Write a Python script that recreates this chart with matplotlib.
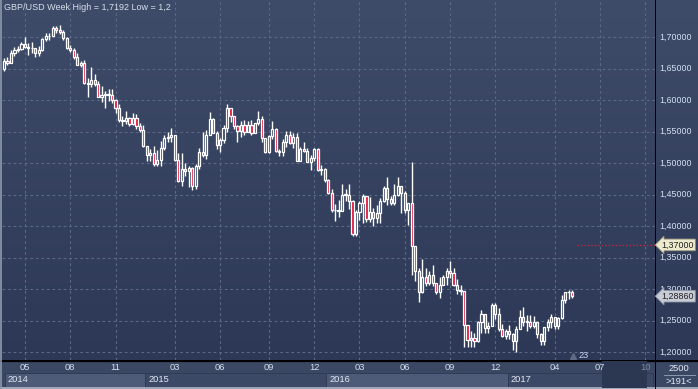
import numpy as np
import pandas as pd
import matplotlib
matplotlib.use("Agg")
import matplotlib.pyplot as plt
from matplotlib.patches import Rectangle
from matplotlib.colors import LinearSegmentedColormap

plt.rcParams['font.family'] = ['Liberation Sans', 'DejaVu Sans']

# weekly GBP/USD candles, first bar = week of 2014-03-24
FIRST_WEEK = "2014-03-24"
FIRST_OPEN = 1.6490

closes = [
    1.6625, 1.6585, 1.6745, 1.6800, 1.6810, 1.6890, 1.6840, 1.6820, 1.6830, 1.6750,
    1.6800, 1.6970, 1.7010, 1.7020, 1.7150, 1.7105, 1.7085, 1.6980, 1.6830, 1.6790,
    1.6690, 1.6560, 1.6590, 1.6270, 1.6260, 1.6310, 1.6250, 1.6040, 1.6080, 1.6090,
    1.6080, 1.6000, 1.5880, 1.5680, 1.5660, 1.5710, 1.5620, 1.5710, 1.5590, 1.5530,
    1.5270, 1.5130, 1.5160, 1.4990, 1.5050, 1.5240, 1.5390, 1.5410, 1.5440, 1.5040,
    1.4720, 1.4910, 1.4880, 1.4920, 1.4630, 1.4960, 1.5180, 1.5130, 1.5450, 1.5700,
    1.5480, 1.5280, 1.5370, 1.5560, 1.5880, 1.5750, 1.5590, 1.5510, 1.5600, 1.5500,
    1.5610, 1.5480, 1.5640, 1.5700, 1.5390, 1.5170, 1.5430, 1.5540, 1.5190, 1.5180,
    1.5330, 1.5450, 1.5310, 1.5420, 1.5030, 1.5220, 1.5190, 1.5010, 1.5080, 1.5220,
    1.4890, 1.4900, 1.4730, 1.4520, 1.4250, 1.4260, 1.4240, 1.4500, 1.4500, 1.4400,
    1.3870, 1.4230, 1.4370, 1.4480, 1.4110, 1.4220, 1.4130, 1.4200, 1.4400, 1.4610,
    1.4430, 1.4370, 1.4500, 1.4630, 1.4520, 1.4260, 1.4360, 1.3680, 1.3280, 1.2950,
    1.3190, 1.3100, 1.3230, 1.3100, 1.2950, 1.3070, 1.3190, 1.3280, 1.3260, 1.3070,
    1.2990, 1.2970, 1.2430, 1.2190, 1.2230, 1.2180, 1.2480, 1.2600, 1.2380, 1.2420,
    1.2740, 1.2600, 1.2370, 1.2260, 1.2340, 1.2280, 1.2180, 1.2370, 1.2560, 1.2480,
    1.2480, 1.2410, 1.2470, 1.2290, 1.2170, 1.2400, 1.2480, 1.2550, 1.2420, 1.2540,
    1.2820, 1.2950, 1.2960, 1.2886,
]
highs = [
    1.6665, 1.6680, 1.6800, 1.6840, 1.6850, 1.6925, 1.6996, 1.6900, 1.6920, 1.6830,
    1.6850, 1.6990, 1.7060, 1.7060, 1.7180, 1.7180, 1.7192, 1.7110, 1.7000, 1.6880,
    1.6830, 1.6740, 1.6620, 1.6640, 1.6350, 1.6525, 1.6420, 1.6300, 1.6230, 1.6140,
    1.6180, 1.6180, 1.6010, 1.5930, 1.5740, 1.5825, 1.5730, 1.5790, 1.5785, 1.5630,
    1.5600, 1.5270, 1.5230, 1.5270, 1.5200, 1.5355, 1.5450, 1.5490, 1.5550, 1.5450,
    1.5160, 1.5165, 1.5000, 1.4950, 1.4930, 1.4990, 1.5240, 1.5500, 1.5520, 1.5815,
    1.5710, 1.5510, 1.5400, 1.5600, 1.5930, 1.5880, 1.5740, 1.5600, 1.5670, 1.5680,
    1.5670, 1.5690, 1.5640, 1.5820, 1.5750, 1.5400, 1.5440, 1.5660, 1.5550, 1.5230,
    1.5380, 1.5510, 1.5510, 1.5470, 1.5480, 1.5250, 1.5340, 1.5240, 1.5130, 1.5240,
    1.5240, 1.4970, 1.4920, 1.4750, 1.4590, 1.4350, 1.4420, 1.4670, 1.4580, 1.4670,
    1.4410, 1.4250, 1.4390, 1.4510, 1.4460, 1.4460, 1.4280, 1.4330, 1.4440, 1.4640,
    1.4770, 1.4470, 1.4670, 1.4770, 1.4630, 1.4550, 1.4360, 1.5018, 1.3520, 1.3330,
    1.3480, 1.3330, 1.3290, 1.3380, 1.3070, 1.3190, 1.3220, 1.3340, 1.3440, 1.3330,
    1.3160, 1.3070, 1.2970, 1.2390, 1.2340, 1.2300, 1.2500, 1.2670, 1.2570, 1.2470,
    1.2770, 1.2775, 1.2700, 1.2440, 1.2360, 1.2430, 1.2300, 1.2410, 1.2670, 1.2710,
    1.2580, 1.2580, 1.2570, 1.2480, 1.2300, 1.2400, 1.2520, 1.2600, 1.2550, 1.2560,
    1.2900, 1.2950, 1.2990, 1.2990,
]
lows = [
    1.6460, 1.6550, 1.6580, 1.6700, 1.6760, 1.6790, 1.6820, 1.6720, 1.6750, 1.6690,
    1.6695, 1.6780, 1.6930, 1.6960, 1.7010, 1.7060, 1.7050, 1.6960, 1.6810, 1.6760,
    1.6650, 1.6550, 1.6520, 1.6250, 1.6050, 1.6200, 1.6230, 1.6040, 1.5970, 1.5875,
    1.5990, 1.5945, 1.5790, 1.5645, 1.5590, 1.5625, 1.5590, 1.5600, 1.5540, 1.5485,
    1.5250, 1.5035, 1.5035, 1.4950, 1.4950, 1.4950, 1.5200, 1.5330, 1.5340, 1.5030,
    1.4700, 1.4635, 1.4790, 1.4620, 1.4565, 1.4580, 1.4900, 1.5090, 1.5070, 1.5440,
    1.5470, 1.5230, 1.5170, 1.5320, 1.5500, 1.5650, 1.5540, 1.5330, 1.5420, 1.5450,
    1.5490, 1.5450, 1.5480, 1.5610, 1.5330, 1.5160, 1.5160, 1.5380, 1.5170, 1.5110,
    1.5110, 1.5250, 1.5300, 1.5240, 1.5030, 1.5030, 1.5170, 1.5010, 1.4895, 1.5025,
    1.4880, 1.4810, 1.4700, 1.4515, 1.4230, 1.4080, 1.4140, 1.4260, 1.4390, 1.4270,
    1.3835, 1.3835, 1.4090, 1.4050, 1.4060, 1.4070, 1.4000, 1.4050, 1.4040, 1.4380,
    1.4330, 1.4330, 1.4330, 1.4470, 1.4210, 1.4200, 1.4010, 1.3229, 1.3120, 1.2800,
    1.2930, 1.3050, 1.3070, 1.3050, 1.2920, 1.2860, 1.3070, 1.3070, 1.3180, 1.3050,
    1.2920, 1.2910, 1.2080, 1.2080, 1.2080, 1.2085, 1.2160, 1.2300, 1.2300, 1.2300,
    1.2420, 1.2520, 1.2330, 1.2240, 1.2200, 1.2200, 1.2030, 1.2000, 1.2380, 1.2410,
    1.2340, 1.2380, 1.2380, 1.2230, 1.2110, 1.2110, 1.2330, 1.2380, 1.2360, 1.2370,
    1.2520, 1.2780, 1.2840, 1.2850,
]

y_ticks = [1.20, 1.25, 1.30, 1.35, 1.40, 1.45, 1.50, 1.55, 1.60, 1.65, 1.70]
month_labels = ["05", "08", "11", "03", "06", "09", "12", "03", "06", "09", "12", "04", "07", "10"]
month_dates = ["2014-05", "2014-08", "2014-11", "2015-03", "2015-06", "2015-09", "2015-12",
               "2016-03", "2016-06", "2016-09", "2016-12", "2017-04", "2017-07", "2017-10"]
years = ["2014", "2015", "2016", "2017"]
alert_level = 1.37
last_price = closes[-1]

n = len(closes)
opens = [FIRST_OPEN] + closes[:-1]
weeks = pd.date_range(FIRST_WEEK, periods=200, freq="W-MON")


def first_bar(month):
    p = pd.Period(month, "M")
    return int(np.argmax((weeks.year == p.year) & (weeks.month == p.month)))


def fmt(v):
    return f"{v:.5f}".replace(".", ",")


W, H = 698, 389
fig = plt.figure(figsize=(W / 100, H / 100), dpi=100)
fig.patch.set_facecolor("#3a4662")

px_w = 655
px_bottom = 29
ax = fig.add_axes([2 / W, px_bottom / H, (px_w - 2) / W, (H - px_bottom) / H])
axr = fig.add_axes([px_w / W, px_bottom / H, (W - px_w) / W, (H - px_bottom) / H])
axb = fig.add_axes([0, 0, px_w / W, px_bottom / H])
axc = fig.add_axes([px_w / W, 0, (W - px_w) / W, px_bottom / H])

# y range: 1.70 at 37px from top, 0.05 = 31.5px
ymax = 1.70 + 37 / 630
ymin = 1.70 - (360 - 37) / 630
spacing = 3.485
xmin = -2 / spacing
xmax = (px_w - 4) / spacing

grad = np.linspace(0, 1, 256).reshape(-1, 1)
bg = LinearSegmentedColormap.from_list("bg", ["#3f4c69", "#2c3856"])
for a in (ax, axr):
    a.imshow(grad, aspect="auto", cmap=bg, extent=[0, 1, 0, 1], transform=a.transAxes, zorder=0)
    a.set_ylim(ymin, ymax)
    a.set_xticks([])
    a.set_yticks([])
    for s in a.spines.values():
        s.set_visible(False)
ax.set_xlim(xmin, xmax)
axr.set_xlim(0, 1)

# grid
for t in y_ticks:
    ax.axhline(t, color="#5b6885", lw=0.8, ls=(0, (2.5, 2.5)), zorder=1)
month_pos = [first_bar(m) for m in month_dates]
for xp in month_pos:
    ax.axvline(xp, color="#5b6885", lw=0.8, ls=(0, (2.5, 2.5)), zorder=1)

# candles
bw = 0.62
for i in range(n):
    o, h, l, c = opens[i], highs[i], lows[i], closes[i]
    ax.vlines(i, l, h, color="white", lw=1.0, zorder=2)
    lo, hi = min(o, c), max(o, c)
    hgt = max(hi - lo, 0.0008)
    face = "#e0143c" if c < o else "#36435f"
    ax.add_patch(Rectangle((i - bw / 2, lo), bw, hgt, facecolor=face,
                           edgecolor="white", lw=0.9, zorder=3))

# alert line
ax.hlines(alert_level, n + 0.4, xmax, color="#c0283c", lw=1.0, ls=(0, (1, 1.5)), zorder=2)

# title
ax.text(2 / (px_w - 2), 1 - 8 / 360, "GBP/USD Week High = 1,7192 Low = 1,2",
        transform=ax.transAxes, color="#d6deea", fontsize=6.5, va="center", ha="left")

# event marker
ax.plot([n - 0.8], [ymin + 0.006], marker="^", color="#5e6a84", ms=4, zorder=4)
ax.text(n + 2.3, ymin + 0.007, "23", color="#c8d8f0", fontsize=6.6, va="center", ha="center")

# right price axis
axr.axvline(0, color="black", lw=1.4)
for t in y_ticks:
    axr.text(0.1, t, fmt(t), color="#d4e0f2", fontsize=6.4,
             va="center", ha="left", zorder=2)
axr.text(0.15, alert_level, fmt(alert_level), color="#202020",
         fontsize=6.4, va="center", ha="left", zorder=5,
         bbox=dict(boxstyle="larrow,pad=0.15", fc="#eeeacd", ec="#9e9a80", lw=0.6))
axr.text(0.15, last_price, fmt(last_price), color="#202020",
         fontsize=6.4, va="center", ha="left", zorder=5,
         bbox=dict(boxstyle="larrow,pad=0.15", fc="#c8ccd6", ec="#8a90a0", lw=0.6))

# bottom time axis
axb.set_xlim(xmin - 2 / spacing, xmax)
axb.set_ylim(0, px_bottom)
axb.set_facecolor("#3b4864")
axb.set_xticks([])
axb.set_yticks([])
for s in axb.spines.values():
    s.set_visible(False)
axb.axhline(px_bottom - 0.5, color="black", lw=1.6)
axb.axhline(0.6, color="#b4bccb", lw=1.2)
year_starts = [0] + [first_bar(f"{y}-01") for y in years[1:]]
year_ends = year_starts[1:] + [xmax]
box_cols = ["#4d5b78", "#3c4966", "#4d5b78", "#3c4966"]
for y, s0, s1, col in zip(years, year_starts, year_ends, box_cols):
    left = s0 - 0.5 if s0 > 0 else 0.2
    axb.add_patch(Rectangle((left, 2.3), s1 - 0.5 - left, 13.4, facecolor=col,
                            edgecolor="#2e3a54", lw=0.6))
    axb.text(left + 0.9, 9, y, color="#e2e8f2", fontsize=6.7, va="center", ha="left")
axb.add_patch(Rectangle((first_bar("2017-07") + 0.5, 1.2), 13, 26.5,
                        facecolor="#2c3751", edgecolor="none", zorder=3))
for lab, xp in zip(month_labels, month_pos):
    col = "#7d8aa3" if xp > first_bar("2017-09") else "#d6dfee"
    axb.text(xp, 21, lab, color=col, fontsize=6.7, va="center", ha="center", zorder=4)

# corner box
axc.set_facecolor("#3b4864")
axc.set_xlim(0, 1)
axc.set_ylim(0, px_bottom)
axc.set_xticks([])
axc.set_yticks([])
for s in axc.spines.values():
    s.set_visible(False)
axc.axhline(px_bottom - 0.5, color="black", lw=1.6)
axc.axhline(0.6, color="#b4bccb", lw=1.2)
axc.axvline(0, color="black", lw=1.4)
axc.text(0.55, 20.5, "2500", color="#e2e8f2", fontsize=6.7, va="center", ha="center")
axc.plot([0.2, 0.92], [14, 14], color="#9aa6bc", lw=0.6)
axc.text(0.55, 7, ">191<", color="#e2e8f2", fontsize=6.7, va="center", ha="center")

# left frame edge
fig.add_artist(plt.Line2D([0.7 / W, 0.7 / W], [0, 1], color="#8e98ac", lw=1.2))

fig.savefig("out.png", dpi=100, facecolor=fig.get_facecolor())
